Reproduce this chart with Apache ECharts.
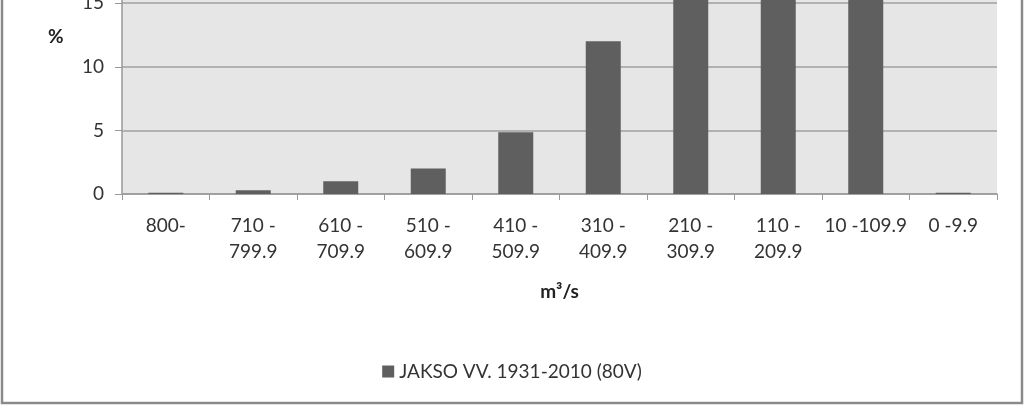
<!DOCTYPE html>
<html><head><meta charset="utf-8">
<script src="https://cdn.jsdelivr.net/npm/echarts@6/dist/echarts.min.js"></script>
<style>html,body{margin:0;padding:0;background:#fff;overflow:hidden;width:1024px;height:406px;position:relative}
#c{position:absolute;left:0;top:-300px;width:1024px;height:706px}</style>
</head><body><div id="c"></div>
<script>
const categories = ['800-', '710 -\n799.9', '610 -\n709.9', '510 -\n609.9', '410 -\n509.9', '310 -\n409.9', '210 -\n309.9', '110 -\n209.9', '10 -109.9', '0 -9.9'];
const seriesName = 'JAKSO VV. 1931-2010 (80V)';
const values = [0.1, 0.3, 1.0, 2.0, 4.85, 12.0, 24.0, 30.0, 25.6, 0.1];
const yTicks = [0, 5, 10, 15, 20, 25, 30];

const OFF = 300; // chart is drawn taller and shifted up; the reference is a crop
const font = 'Lato, "Open Sans", sans-serif';
const chart = echarts.init(document.getElementById('c'), null, {renderer: 'canvas'});
chart.setOption({
  animation: false,
  backgroundColor: '#fff',
  grid: {left: 122, right: 27, top: OFF + 194 - 32 * 12.72, bottom: 406 - 194, containLabel: false,
         show: true, backgroundColor: '#e6e6e6', borderWidth: 0},
  legend: {
    top: OFF + 357, left: 'center', itemWidth: 12, itemHeight: 12, itemGap: 6,
    textStyle: {fontFamily: font, fontSize: 19, color: '#333'},
    data: [{name: seriesName, icon: 'rect'}]
  },
  xAxis: {
    type: 'category', data: categories,
    name: 'm³/s', nameLocation: 'middle', nameGap: 88,
    nameTextStyle: {fontFamily: font, fontSize: 19, fontWeight: 'bold', color: '#222'},
    axisLine: {lineStyle: {color: '#999', width: 1.5}},
    axisTick: {show: true, length: 6, lineStyle: {color: '#999'}},
    axisLabel: {fontFamily: font, fontSize: 19, color: '#333', lineHeight: 26, margin: 19, interval: 0}
  },
  yAxis: {
    type: 'value', min: 0, max: 32, interval: 5,
    axisLine: {show: true, lineStyle: {color: '#999', width: 1.5}},
    axisTick: {show: true, length: 7, lineStyle: {color: '#999'}},
    splitLine: {lineStyle: {color: '#a0a0a0', width: 1.5}},
    axisLabel: {fontFamily: font, fontSize: 19, color: '#333', margin: 18,
      formatter: v => yTicks.includes(v) ? String(v) : ''}
  },
  graphic: [
    {type: 'text', left: 48, top: OFF + 27, style: {text: '%', font: 'bold 19px ' + font, fill: '#222'}},
    {type: 'rect', shape: {x: 2, y: 200, width: 1020, height: OFF + 403 - 200}, style: {fill: 'none', stroke: '#8a8a8a', lineWidth: 2.5}, silent: true}
  ],
  series: [{
    name: seriesName, type: 'bar', data: values, barWidth: 35,
    itemStyle: {color: '#5f5f5f'}
  }]
});
</script></body></html>
